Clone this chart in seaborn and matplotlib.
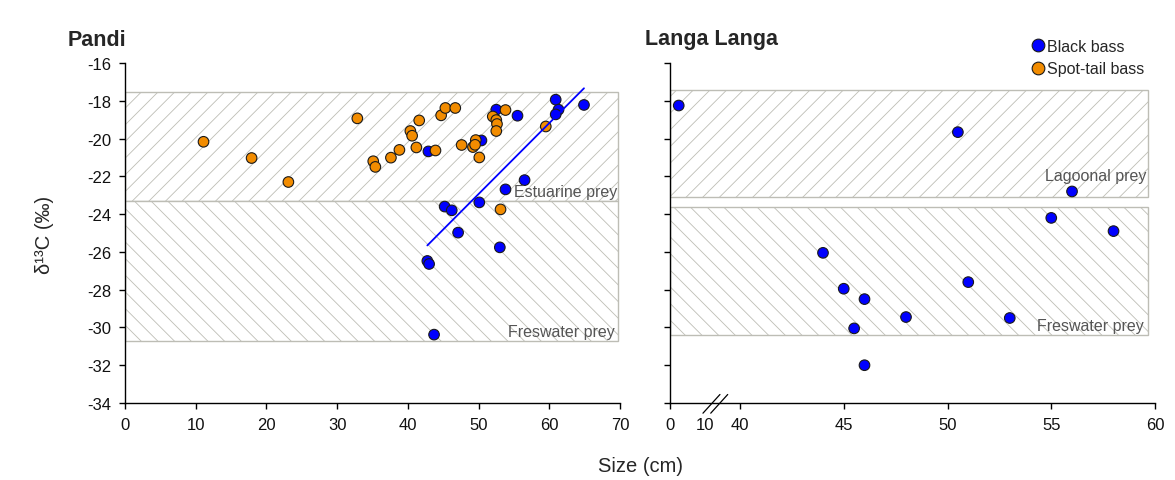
import numpy as np
import pandas as pd
import matplotlib
matplotlib.use("Agg")
import matplotlib.pyplot as plt
import seaborn as sns

# ---------------- data ----------------
species = ["Black bass", "Spot-tail bass"]
palette = ["#0000ff", "#f28c00"]

pandi_bb_size = [42.9, 50.4, 52.5, 55.5, 60.9, 61.3, 60.9, 64.9, 56.5, 53.8,
                 45.2, 46.2, 50.1, 47.1, 53.0, 42.75, 43.0, 43.7]
pandi_bb_d13c = [-20.68, -20.10, -18.47, -18.79, -17.94, -18.47, -18.72, -18.22, -22.20, -22.69,
                 -23.60, -23.80, -23.38, -24.98, -25.76, -26.48, -26.64, -30.38]

pandi_st_size = [11.1, 17.9, 23.1, 32.85, 35.1, 35.4, 37.6, 38.8, 40.35, 40.6,
                 41.6, 41.2, 43.9, 44.7, 45.3, 46.7, 47.6, 49.2, 49.6, 49.5,
                 50.1, 52.0, 52.5, 52.6, 52.5, 53.8, 59.5, 53.1]
pandi_st_d13c = [-20.17, -21.03, -22.30, -18.93, -21.20, -21.50, -21.01, -20.60, -19.60, -19.85,
                 -19.04, -20.47, -20.63, -18.77, -18.38, -18.38, -20.34, -20.45, -20.08, -20.33,
                 -21.00, -18.83, -19.02, -19.23, -19.60, -18.49, -19.36, -23.75]

langa_bb_size = [2.5, 50.5, 56.0, 55.0, 58.0, 44.0, 45.0, 46.0, 45.5, 51.0, 48.0, 53.0, 46.0]
langa_bb_d13c = [-18.25, -19.66, -22.80, -24.20, -24.90, -26.05, -27.95, -28.50, -30.05,
                 -27.60, -29.45, -29.50, -32.00]

left_xticks = [0, 10, 20, 30, 40, 50, 60, 70]
right_xticks = [0, 10, 40, 45, 50, 55, 60]
yticks = [-16, -18, -20, -22, -24, -26, -28, -30, -32, -34]

# prey bands: (label, low, high, hatch)
pandi_bands = [("Estuarine prey", -23.33, -17.54, "//"),
               ("Freswater prey", -30.70, -23.33, "\\\\")]
langa_bands = [("Lagoonal prey", -23.10, -17.45, "//"),
               ("Freswater prey", -30.42, -23.62, "\\\\")]

df_pandi = pd.DataFrame({
    "size": pandi_bb_size + pandi_st_size,
    "d13c": pandi_bb_d13c + pandi_st_d13c,
    "species": ["Black bass"] * len(pandi_bb_size) + ["Spot-tail bass"] * len(pandi_st_size),
})
df_langa = pd.DataFrame({
    "size": langa_bb_size,
    "d13c": langa_bb_d13c,
    "species": ["Black bass"] * len(langa_bb_size),
})

# ---------------- style ----------------
sns.set_theme(style="ticks")
plt.rcParams["font.family"] = ["Liberation Sans", "DejaVu Sans"]
plt.rcParams["axes.unicode_minus"] = False
plt.rcParams["hatch.linewidth"] = 0.6

fig = plt.figure(figsize=(11.75, 4.81), dpi=100)
fig.patch.set_facecolor("white")
ax1 = fig.add_axes([0.1064, 0.1601, 0.4213, 0.7068])
ax2 = fig.add_axes([0.5702, 0.1601, 0.4128, 0.7068])

# broken x scale for right panel
def fwd(x):
    return np.interp(x, [0, 10, 40, 60], [0, 35, 70, 485])

def inv(u):
    return np.interp(u, [0, 35, 70, 485], [0, 10, 40, 60])

ax2.set_xscale("function", functions=(fwd, inv))

band_edge = "#bdbdb5"
txt_col = "#555555"

for ax, bands, xmax in [(ax1, pandi_bands, 0.996), (ax2, langa_bands, 0.986)]:
    for label, lo, hi, hatch in bands:
        ax.axhspan(lo, hi, xmin=0, xmax=xmax, facecolor="white", edgecolor=band_edge,
                   hatch=hatch, linewidth=1.0, zorder=1)

# scatter
sns.scatterplot(data=df_pandi, x="size", y="d13c", hue="species", hue_order=species,
                palette=palette, s=58, edgecolor="#1a1a1a", linewidth=0.8, ax=ax1, zorder=3)
sns.regplot(data=df_pandi[df_pandi["species"] == "Black bass"], x="size", y="d13c",
            scatter=False, ci=None, truncate=True, color="#0000ff",
            line_kws=dict(lw=1.3, zorder=4), ax=ax1)
sns.scatterplot(data=df_langa, x="size", y="d13c", hue="species", hue_order=species,
                palette=palette, s=58, edgecolor="#1a1a1a", linewidth=0.8, ax=ax2, zorder=3,
                legend=False)

handles, labels = ax1.get_legend_handles_labels()
ax1.get_legend().remove()
fig.legend(handles, labels, loc="upper right", bbox_to_anchor=(1144 / 1175, 1 - 40 / 481),
           frameon=False, handletextpad=0.05, labelspacing=0.45, fontsize=11.5,
           borderaxespad=0, handlelength=1.0, borderpad=0, markerscale=1.2)

# band labels
ax1.text(69.6, pandi_bands[0][1] + 0.15, pandi_bands[0][0], ha="right", va="bottom",
         fontsize=11.5, color=txt_col, zorder=5)
ax1.text(69.3, pandi_bands[1][1] + 0.1, pandi_bands[1][0], ha="right", va="bottom",
         fontsize=11.5, color=txt_col, zorder=5)
ax2.text(59.6, langa_bands[0][1] + 0.75, langa_bands[0][0], ha="right", va="bottom",
         fontsize=11.5, color=txt_col, zorder=5)
ax2.text(59.45, langa_bands[1][1] + 0.15, langa_bands[1][0], ha="right", va="bottom",
         fontsize=11.5, color=txt_col, zorder=5)

# axes formatting
for ax in (ax1, ax2):
    ax.set_ylim(-34, -16)
    ax.set_yticks(yticks)
    ax.set_xlabel("")
    ax.set_ylabel("")
    ax.set_facecolor("white")
    for sp in ("top", "right"):
        ax.spines[sp].set_visible(False)
    for sp in ("left", "bottom"):
        ax.spines[sp].set_color("black")
        ax.spines[sp].set_linewidth(1.0)
    ax.tick_params(direction="out", length=4, width=1.0, color="black",
                   labelsize=12, labelcolor="#111111", pad=6)

ax1.set_xlim(0, 70)
ax1.set_xticks(left_xticks)
ax1.set_yticklabels([str(v) for v in yticks])

ax2.set_xlim(0, 60)
ax2.set_xticks(right_xticks)
ax2.set_xticklabels([str(v) for v in right_xticks])
ax2.tick_params(axis="y", labelleft=False)
ax2.xaxis.get_major_ticks()[1].tick1line.set_visible(False)

# axis-break marks
for dx in (0.0, 0.016):
    ax2.plot([0.068 + dx, 0.103 + dx], [-0.03, 0.025], transform=ax2.transAxes,
             color="black", lw=0.9, clip_on=False, zorder=6)

# titles and labels
fig.text(68 / 1175, 1 - 40 / 481, "Pandi", fontsize=15.5, fontweight="bold", va="center")
fig.text(645 / 1175, 1 - 40 / 481, "Langa Langa", fontsize=15.5, fontweight="bold", va="center")
fig.text(45 / 1175, 1 - 235 / 481, "δ¹³C (‰)", rotation=90, fontsize=14.5, va="center", ha="center")
fig.text(640 / 1175, 1 - 467 / 481, "Size (cm)", fontsize=14.5, va="center", ha="center")

fig.savefig("out.png", dpi=100, facecolor="white")
